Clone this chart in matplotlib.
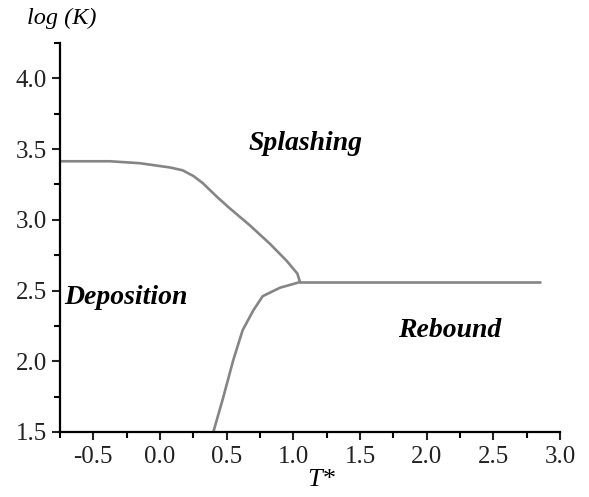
import matplotlib
matplotlib.use("Agg")
import matplotlib.pyplot as plt
from matplotlib.ticker import MultipleLocator

plt.rcParams['font.family'] = ['Liberation Serif', 'DejaVu Serif']
plt.rcParams['axes.unicode_minus'] = False

# upper boundary: deposition / splashing
t_upper = [-0.75, -0.375, -0.15, 0.075, 0.17, 0.25, 0.32, 0.43, 0.525, 0.675,
           0.825, 0.95, 1.03, 1.05]
k_upper = [3.414, 3.414, 3.40, 3.37, 3.35, 3.31, 3.26, 3.16, 3.08, 2.96,
           2.83, 2.71, 2.62, 2.56]

# lower boundary: deposition / rebound
t_lower = [0.4, 0.47, 0.55, 0.62, 0.70, 0.77, 0.9, 1.05]
k_lower = [1.5, 1.73, 2.01, 2.22, 2.36, 2.46, 2.52, 2.56]

# splashing / rebound boundary
t_flat = [1.05, 2.85]
k_flat = [2.56, 2.56]

regions = ['Splashing', 'Deposition', 'Rebound']
region_t = [1.09, -0.715, 2.17]
region_k = [3.54, 2.45, 2.22]

fig = plt.figure(figsize=(5.89, 4.97), dpi=100)
ax = fig.add_axes([60 / 589, 65 / 497, 500 / 589, 389 / 497])

for t, k in [(t_upper, k_upper), (t_lower, k_lower), (t_flat, k_flat)]:
    ax.plot(t, k, color='#858585', lw=1.9, solid_capstyle='round',
            solid_joinstyle='round')

ax.text(region_t[0], region_k[0], regions[0], ha='center', va='center',
        fontsize=20, fontweight='bold', fontstyle='italic')
ax.text(region_t[1], region_k[1], regions[1], ha='left', va='center',
        fontsize=20, fontweight='bold', fontstyle='italic')
ax.text(region_t[2], region_k[2], regions[2], ha='center', va='center',
        fontsize=20, fontweight='bold', fontstyle='italic')

ax.set_xlim(-0.75, 3.0)
ax.set_ylim(1.5, 4.25)
ax.set_xticks([-0.5, 0.0, 0.5, 1.0, 1.5, 2.0, 2.5, 3.0])
ax.set_yticks([1.5, 2.0, 2.5, 3.0, 3.5, 4.0])
ax.xaxis.set_minor_locator(MultipleLocator(0.25))
ax.yaxis.set_minor_locator(MultipleLocator(0.25))
ax.tick_params(which='major', direction='out', length=6, width=1.5,
               labelsize=18, colors='#222222')
ax.tick_params(axis='x', which='major', pad=4)
ax.tick_params(which='minor', direction='out', length=4, width=1.5)

for side in ['top', 'right']:
    ax.spines[side].set_visible(False)
for side in ['left', 'bottom']:
    ax.spines[side].set_linewidth(1.6)

fig.text(62 / 589, 1 - 18 / 497, 'log (K)', ha='center', va='center',
         fontsize=17.5, fontstyle='italic')
fig.text(321 / 589, 1 - 486 / 497, 'T*', ha='center', va='baseline',
         fontsize=19, fontstyle='italic')

fig.savefig('out.png', dpi=100)
